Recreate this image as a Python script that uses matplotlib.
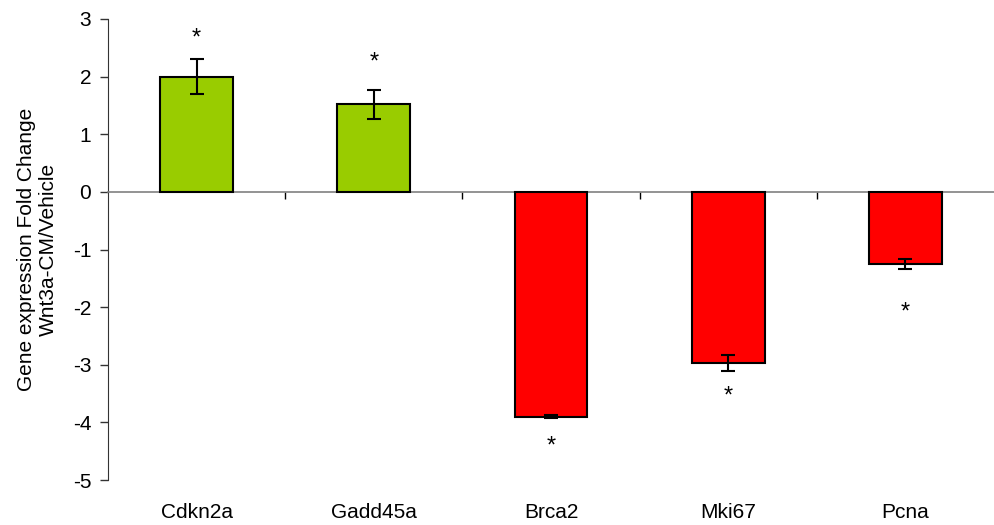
import matplotlib.pyplot as plt
import numpy as np

genes = ['Cdkn2a', 'Gadd45a', 'Brca2', 'Mki67', 'Pcna']
fold = [2.0, 1.52, -3.90, -2.97, -1.25]
err = [0.30, 0.25, 0.03, 0.14, 0.09]
star_y = [2.66, 2.25, -4.42, -3.55, -2.09]
colors = ['#99CC00', '#99CC00', '#FF0000', '#FF0000', '#FF0000']

plt.rcParams['font.family'] = ['Liberation Sans', 'DejaVu Sans']
plt.rcParams['axes.unicode_minus'] = False

fig = plt.figure(figsize=(9.94, 5.25), dpi=100)
ax = fig.add_axes([108/994, 45/525, 886/994, 461/525])

x = np.arange(len(genes))
ax.bar(x, fold, width=0.41, color=colors, edgecolor='black', linewidth=1.5, zorder=3)
ax.errorbar(x, fold, yerr=err, fmt='none', ecolor='black', elinewidth=1.5,
            capsize=5, capthick=1.5, zorder=4)
for xi, sy in zip(x, star_y):
    ax.text(xi, sy, '*', ha='center', va='center', fontsize=17)

ax.set_xlim(-0.5, 4.5)
ax.set_ylim(-5, 3)
ax.set_yticks(range(-5, 4))
ax.tick_params(axis='y', labelsize=15, length=6, width=1, color='#333333', pad=6)

ax.spines['top'].set_visible(False)
ax.spines['right'].set_visible(False)
ax.spines['left'].set_color('#333333')
ax.spines['bottom'].set_position(('data', 0))
ax.spines['bottom'].set_color('#808080')
ax.spines['bottom'].set_linewidth(1.2)
ax.set_xticks([0.5, 1.5, 2.5, 3.5])
ax.set_xticklabels([])
ax.tick_params(axis='x', length=5, width=1, color='black')

for xi, g in zip(x, genes):
    ax.text(xi, -0.07, g, ha='center', va='center', fontsize=15,
            transform=ax.get_xaxis_transform())

ax.set_ylabel('Gene expression Fold Change\nWnt3a-CM/Vehicle', fontsize=15,
              linespacing=1.25)
ax.yaxis.set_label_coords(-0.056, 0.5)

fig.savefig('out.png', dpi=100)
